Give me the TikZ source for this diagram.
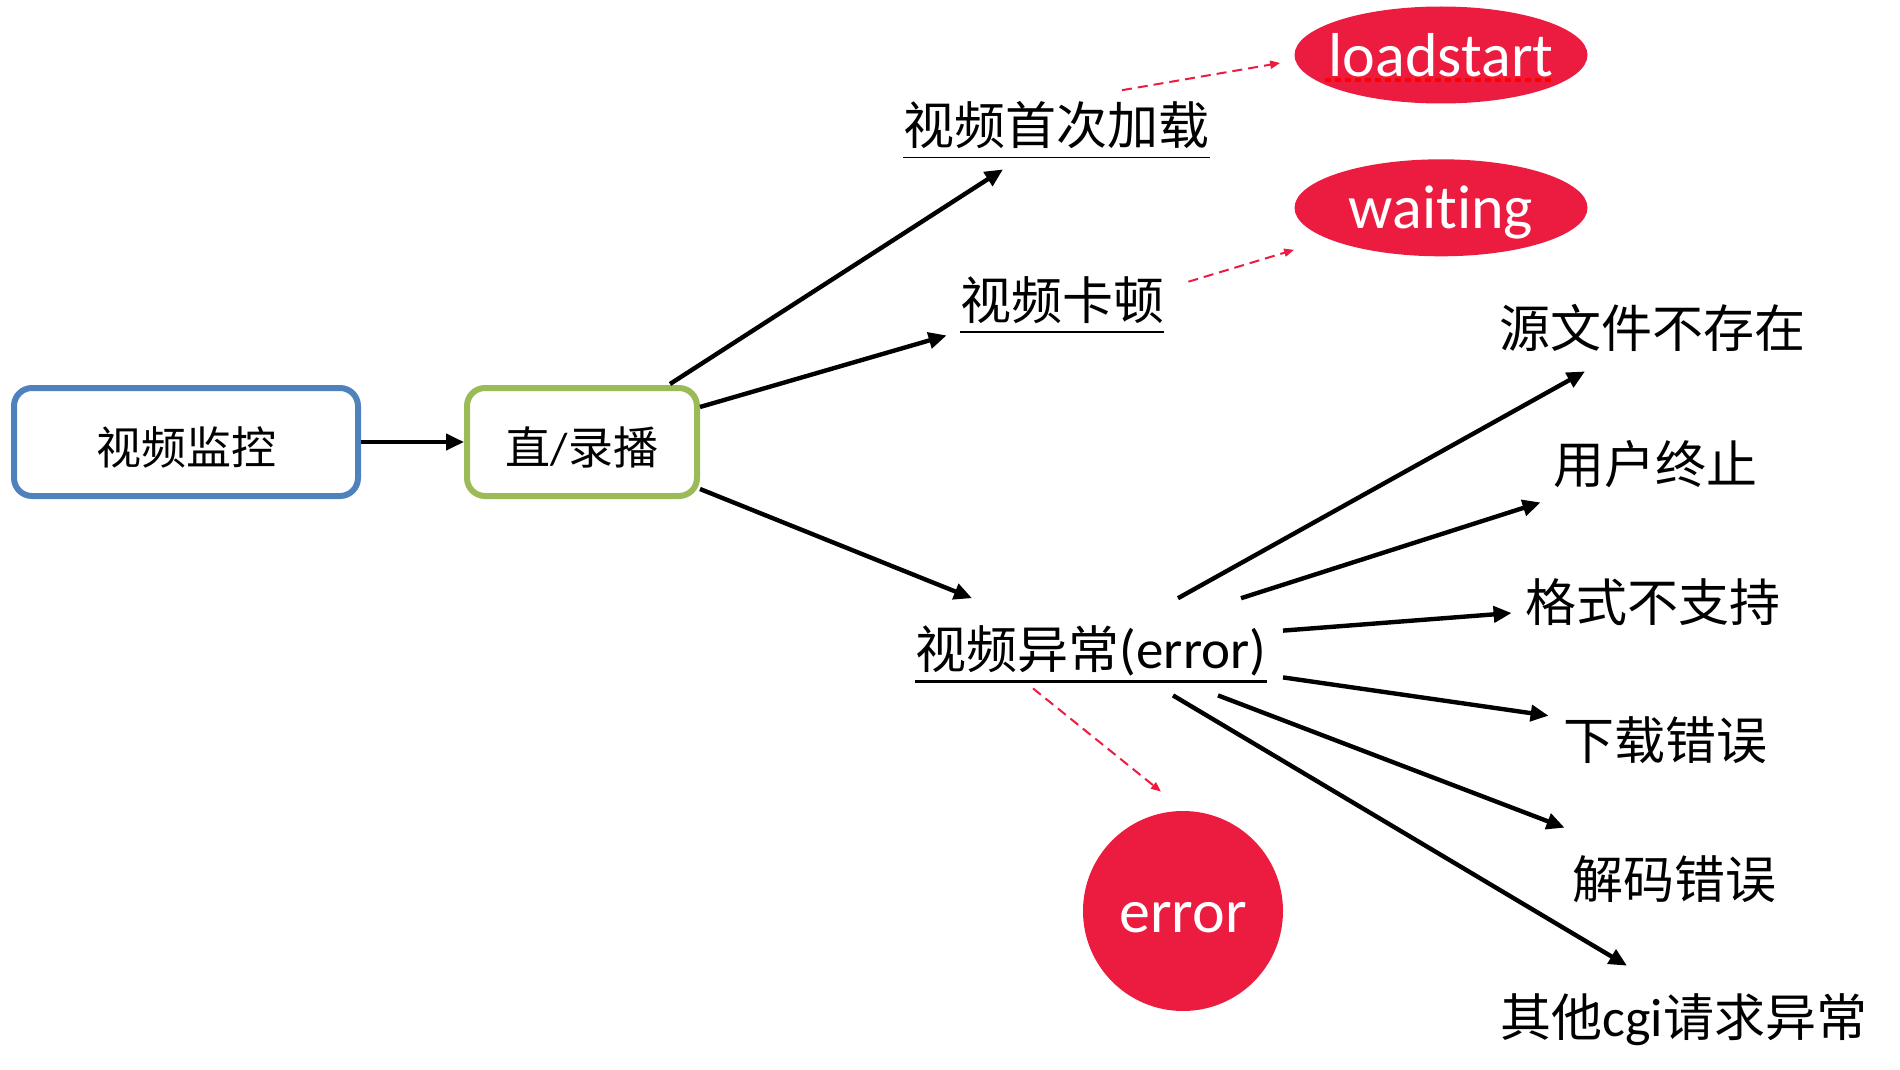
\documentclass[tikz,border=0pt]{standalone}
\usepackage{fontspec}
\setmainfont{Carlito}[Ligatures=NoCommon]
\newfontfamily\zh{Noto Sans CJK SC}
\usetikzlibrary{positioning,shapes.geometric,arrows.meta}
\definecolor{boxblue}{RGB}{79,129,189}
\definecolor{boxgreen}{RGB}{155,187,89}
\definecolor{eventred}{RGB}{235,28,64}

\begin{document}
\begin{tikzpicture}[x=0.5pt, y=-0.5pt,
						stage/.style={rectangle, rounded corners=9pt, line width=3pt, fill=white, minimum height=54pt, inner sep=0pt, text height=22pt, text depth=0pt, font=\fontsize{22.5pt}{27pt}\selectfont},
						topic/.style={anchor=base, inner xsep=0pt, inner ysep=6.25pt, text height=21.2pt, text depth=0pt, font=\fontsize{25.5pt}{30pt}\selectfont},
						outcome/.style={anchor=base, inner sep=0pt, text height=21.2pt, text depth=0pt, font=\fontsize{25.5pt}{30pt}\selectfont},
						event/.style={ellipse, fill=eventred, text=white, inner sep=0pt, text height=21pt, text depth=0pt, minimum width=146.5pt, minimum height=48.5pt, font=\fontsize{31pt}{37pt}\selectfont}
					]
					\useasboundingbox (0,0) rectangle (1900,1070);
					\node[stage, draw=boxblue, minimum width=172pt] (monitor) at (186,442) {{\zh 视频监控}};
					\node[stage, draw=boxgreen, minimum width=115pt] (live) [right=51.5pt of monitor] {{\zh 直}/{\zh 录播}};
					\node[topic] (first) at (1056.5,144.5) {{\zh 视频首次加载}};
					\node[topic] (stall) at (1062,319) {{\zh 视频卡顿}};
					\node[topic] (fault) at (1091,668.5) {{\zh 视频异常}{\fontsize{27.5pt}{30pt}\selectfont(error)}};
					\node[event] (loadstart) at (1441,55) {\makebox[0pt]{loadstart}};
					\node[event] (waiting) [below=27.5pt of loadstart] {\makebox[0pt]{waiting}};
					\node[event, circle, minimum size=100pt] (error) at (1183,911) {error};
					\node[outcome] (src) at (1652.5,347.5) {{\zh 源文件不存在}};
					\node[outcome] (abort) at (1655.5,483.5) {{\zh 用户终止}};
					\node[outcome] (fmt) at (1652.5,621.5) {{\zh 格式不支持}};
					\node[outcome] (dl) at (1665,759.5) {{\zh 下载错误}};
					\node[outcome] (dec) at (1674,898.5) {{\zh 解码错误}};
					\node[outcome] (other) at (1684,1036.5) {{\zh 其他}{\fontsize{27pt}{30pt}\selectfont cgi}{\zh 请求异常}};
					\draw[line width=0.8pt] (first.south west) -- (first.south east);
					\draw[line width=0.8pt] (stall.south west) -- (stall.south east);
					\draw[line width=1.4pt] (fault.south west) -- (fault.south east);
					\draw[red, line width=2pt, dash pattern=on 3pt off 2pt] ([shift={(-116,25)}]loadstart.center) -- ([shift={(111,25)}]loadstart.center);
					\begin{scope}[line width=2.2pt, -{Triangle[length=9pt, width=8pt]}]
					\draw (monitor.east) -- (live.west);
					\draw ([shift={(-30,-1)}]live.north east) -- ([shift={(-53.5,12)}]first.south);
					\draw ([shift={(0,-35)}]live.east) -- ([shift={(-13,3.5)}]stall.south west);
					\draw ([shift={(0,-10)}]live.south east) -- ([shift={(-119,-15)}]fault.north);
					\draw ([shift={(87,-15)}]fault.north) -- ([shift={(-67.5,23.5)}]src.south);
					\draw ([shift={(150,-15)}]fault.north) -- ([shift={(-12.5,18.5)}]abort.south west);
					\draw ([shift={(192,17.4)}]fault.north) -- ([shift={(-13,12.7)}]fmt.west);
					\draw ([shift={(192,-4)}]fault.south) -- ([shift={(-14,-1)}]dl.north west);
					\draw ([shift={(127,14)}]fault.south) -- ([shift={(-7,-28)}]dec.north west);
					\draw ([shift={(82,14)}]fault.south) -- ([shift={(-57,-28)}]other.north);
					\end{scope}
					\begin{scope}[eventred, line width=1pt, dash pattern=on 5pt off 3pt, -{Triangle[length=5pt, width=4pt]}]
					\draw ([shift={(65.5,1)}]first.north) -- ([shift={(-14,8)}]loadstart.west);
					\draw ([shift={(24,18)}]stall.north east) -- ([shift={(0,42)}]waiting.west);
					\draw ([shift={(-58,7)}]fault.south) -- ([shift={(-22,-19)}]error.north);
					\end{scope}
					\end{tikzpicture}
\end{document}
